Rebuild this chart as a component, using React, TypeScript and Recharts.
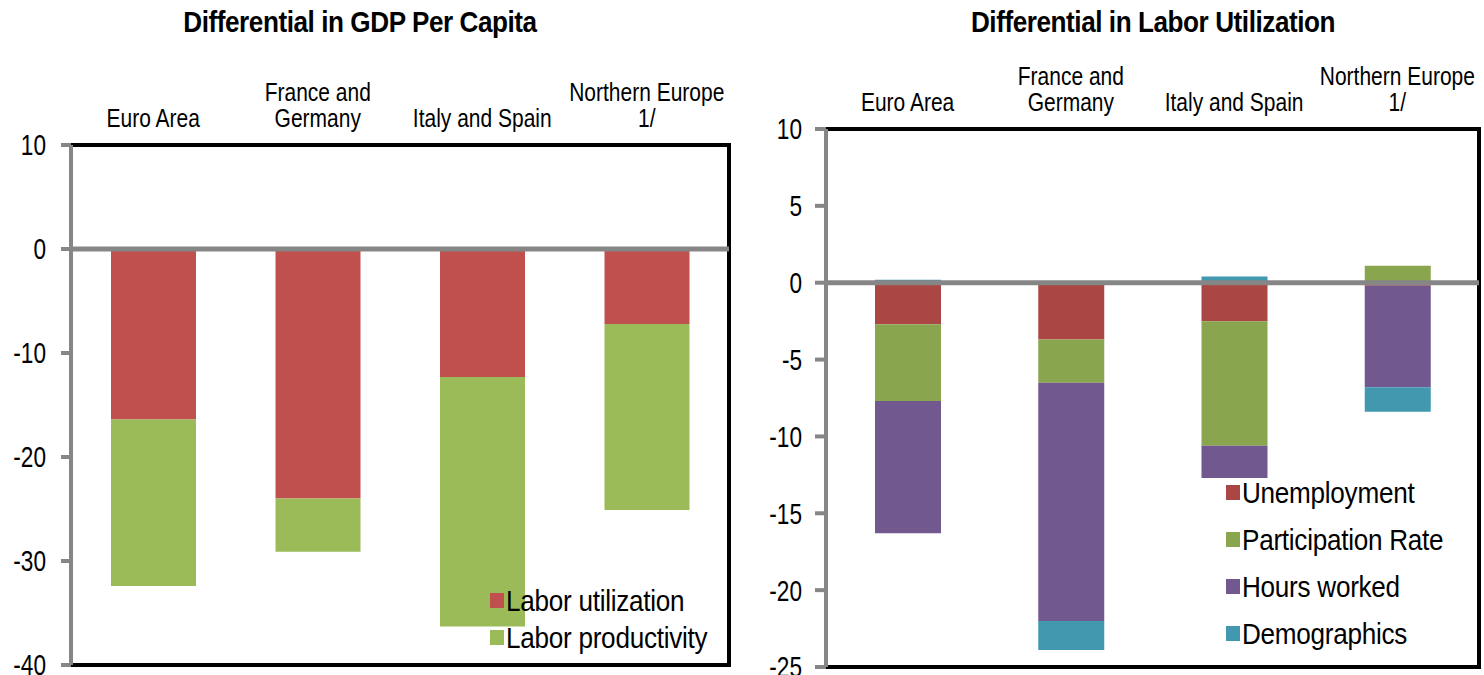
import { BarChart, Bar, XAxis, YAxis, ReferenceLine, ReferenceArea } from "recharts";

const FONT = '"Liberation Sans", Arial, sans-serif';

// regions along the top axis ("\n" marks a line break in the label)
const regions = ["Euro Area", "France and\nGermany", "Italy and Spain", "Northern Europe\n1/"];

// GDP per capita differential, percent
const laborUtilization = [-16.4, -24.0, -12.3, -7.2];
const laborProductivity = [-16.0, -5.1, -24.0, -17.9];
const gdpTicks = [10, 0, -10, -20, -30, -40];

// labor utilization differential, percent
const unemployment = [-2.7, -3.7, -2.5, -0.2];
const participationRate = [-5.0, -2.8, -8.1, 1.1];
const hoursWorked = [-8.6, -15.5, -2.1, -6.6];
const demographics = [0.2, -1.9, 0.4, -1.6];
const laborTicks = [10, 5, 0, -5, -10, -15, -20, -25];

const gdpSeries = [
  { key: "utilization", name: "Labor utilization", color: "#C0504D", values: laborUtilization },
  { key: "productivity", name: "Labor productivity", color: "#9BBB59", values: laborProductivity },
];

const laborSeries = [
  { key: "unemployment", name: "Unemployment", color: "#AA4643", values: unemployment },
  { key: "participation", name: "Participation Rate", color: "#89A54E", values: participationRate },
  { key: "hours", name: "Hours worked", color: "#71588F", values: hoursWorked },
  { key: "demographics", name: "Demographics", color: "#4198AF", values: demographics },
];

type Series = typeof gdpSeries;

function buildRows(series: Series) {
  return regions.map((region, i) => {
    const row: Record<string, string | number> = { region };
    series.forEach((s) => {
      row[s.key] = s.values[i];
    });
    return row;
  });
}

const gdpData = buildRows(gdpSeries);
const laborData = buildRows(laborSeries);

const AXIS_GRAY = "#868686";

// squeeze text horizontally around its anchor, narrow-font look
const squeeze = (x: number, k: number) => `translate(${x} 0) scale(${k} 1) translate(${-x} 0)`;

function RegionTick(props: any) {
  const { x, y, payload } = props;
  const lines = String(payload.value).split("\n");
  return (
    <text x={x} y={y} textAnchor="middle" fontFamily={FONT} fontSize={25} fill="#000" transform={squeeze(x, 0.84)}>
      {lines.map((line, i) => (
        <tspan key={i} x={x} dy={i === 0 ? -(lines.length - 1) * 26 : 26}>
          {line}
        </tspan>
      ))}
    </text>
  );
}

function ValueTick(props: any) {
  const { x, y, payload } = props;
  return (
    <text x={x} y={y} dy="0.36em" textAnchor="end" fontFamily={FONT} fontSize={29} fill="#000" transform={squeeze(x, 0.78)}>
      {payload.value}
    </text>
  );
}

function SquareLegend({ series, rowHeight, left, top }: { series: Series; rowHeight: number; left: number; top: number }) {
  return (
    <div style={{ position: "absolute", left, top, fontFamily: FONT, fontSize: 30, color: "#000" }}>
      {series.map((s) => (
        <div key={s.key} style={{ display: "flex", alignItems: "center", height: rowHeight, whiteSpace: "nowrap" }}>
          <span style={{ width: 14, height: 15, background: s.color, marginRight: 2, flex: "none" }} />
          <span style={{ display: "inline-block", transform: "scaleX(0.87)", transformOrigin: "0 50%", letterSpacing: -0.3 }}>
            {s.name}
          </span>
        </div>
      ))}
    </div>
  );
}

function StackedPanel(props: {
  data: Record<string, string | number>[];
  series: Series;
  width: number;
  domain: [number, number];
  ticks: number[];
  yAxisWidth: number;
  xAxisHeight: number;
  rightMargin: number;
  bottomMargin: number;
  tickSize: number;
  tickMargin: number;
  barSize: number;
}) {
  const p = props;
  return (
    <BarChart
      width={p.width}
      height={675}
      data={p.data}
      stackOffset="sign"
      margin={{ top: 45, right: p.rightMargin, bottom: p.bottomMargin, left: 0 }}
    >
      {/* black frame round the plot; the gray value axis is drawn over its left side */}
      <ReferenceArea y1={p.domain[0]} y2={p.domain[1]} fill="none" stroke="#000" strokeWidth={4} />
      <XAxis
        dataKey="region"
        orientation="top"
        height={p.xAxisHeight}
        interval={0}
        tick={<RegionTick />}
        tickLine={false}
        tickSize={0}
        tickMargin={18}
        axisLine={{ stroke: "#000", strokeWidth: 4 }}
      />
      <YAxis
        domain={p.domain}
        ticks={p.ticks}
        interval={0}
        allowDataOverflow
        width={p.yAxisWidth}
        tickSize={p.tickSize}
        tickMargin={p.tickMargin}
        tick={<ValueTick />}
        tickLine={{ stroke: AXIS_GRAY, strokeWidth: 4 }}
        axisLine={{ stroke: AXIS_GRAY, strokeWidth: 4 }}
      />
      {p.series.map((s) => (
        <Bar
          key={s.key}
          dataKey={s.key}
          name={s.name}
          stackId="total"
          fill={s.color}
          barSize={p.barSize}
          isAnimationActive={false}
        />
      ))}
      <ReferenceLine y={0} stroke={AXIS_GRAY} strokeWidth={5} />
    </BarChart>
  );
}

const titleStyle = {
  position: "absolute" as const,
  top: 6,
  fontFamily: FONT,
  fontWeight: 700,
  fontSize: 30,
  lineHeight: "32px",
  letterSpacing: -0.5,
  textAlign: "center" as const,
  color: "#000",
  transform: "scaleX(0.87)",
};

export default function App() {
  return (
    <div style={{ position: "absolute", left: 0, top: 0, width: 1484, height: 675, background: "#fff" }}>
      <div style={{ ...titleStyle, left: 60, width: 600 }}>Differential in GDP Per Capita</div>
      <div style={{ ...titleStyle, left: 853, width: 600 }}>Differential in Labor Utilization</div>

      <div style={{ position: "absolute", left: 0, top: 0 }}>
        <StackedPanel
          data={gdpData}
          series={gdpSeries}
          width={740}
          domain={[-40, 10]}
          ticks={gdpTicks}
          yAxisWidth={71}
          xAxisHeight={100}
          rightMargin={11}
          bottomMargin={10}
          tickSize={10}
          tickMargin={15}
          barSize={85}
        />
      </div>

      <div style={{ position: "absolute", left: 740, top: 0 }}>
        <StackedPanel
          data={laborData}
          series={laborSeries}
          width={744}
          domain={[-25, 10]}
          ticks={laborTicks}
          yAxisWidth={86}
          xAxisHeight={84}
          rightMargin={5}
          bottomMargin={8}
          tickSize={11}
          tickMargin={13}
          barSize={66}
        />
      </div>

      <SquareLegend series={gdpSeries} rowHeight={37} left={490} top={582} />
      <SquareLegend series={laborSeries} rowHeight={47} left={1226} top={469} />
    </div>
  );
}
